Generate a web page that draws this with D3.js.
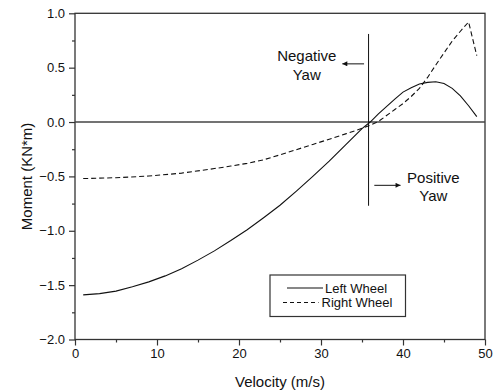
<!DOCTYPE html>
<html><head><meta charset="utf-8">
<script src="https://cdn.jsdelivr.net/npm/d3@7"></script>
<style>body{margin:0;background:#fff}svg{display:block;font-family:Arial,"Liberation Sans",Helvetica,sans-serif}</style>
</head><body><svg id="c" width="496" height="392"></svg>
<script>
// Data
const leftV = [1,3,5,7,9,11,13,15,17,19,21,23,25,27,29,31,33,35,36,37,39,40,41,42,43,44,45,46,47,48,49];
const leftM = [-1.59,-1.578,-1.555,-1.515,-1.47,-1.415,-1.35,-1.27,-1.185,-1.09,-0.99,-0.88,-0.765,-0.635,-0.5,-0.36,-0.21,-0.06,0.0,0.075,0.21,0.275,0.315,0.35,0.365,0.37,0.355,0.31,0.24,0.15,0.05];
const rightV = [1,5,9,13,17,19,21,23,25,27,29,31,33,35,36,37,39,40,41,42,43,44,45,46,47,48,49];
const rightM = [-0.52,-0.512,-0.497,-0.47,-0.428,-0.405,-0.38,-0.347,-0.302,-0.254,-0.206,-0.158,-0.109,-0.058,-0.03,0.005,0.115,0.17,0.235,0.31,0.41,0.525,0.635,0.745,0.835,0.92,0.61];
const xTicks = [0,10,20,30,40,50];
const yTicks = [-2.0,-1.5,-1.0,-0.5,0.0,0.5,1.0];
const seriesNames = ["Left Wheel","Right Wheel"];
const xTitle = "Velocity (m/s)";
const yTitle = "Moment (KN*m)";
const yawV = 35.8, yawFrom = -0.77, yawTo = 0.81;

const svg = d3.select("#c");
const L=75,R=485,T=13.3,B=339.5;
const x = d3.scaleLinear().domain([0,50]).range([L,R]);
const y = d3.scaleLinear().domain([-2,1]).range([B,T]);
const ink = "#111", frame="#333";

// frame
svg.append("rect").attr("x",L).attr("y",T).attr("width",R-L).attr("height",B-T)
  .attr("fill","none").attr("stroke",frame).attr("stroke-width",1.3);

// axes
const xAx = svg.append("g").attr("transform",`translate(0,${B})`)
  .call(d3.axisBottom(x).tickValues(xTicks).tickFormat(d3.format("d")).tickSize(6).tickPadding(3));
const xMinor = svg.append("g").attr("transform",`translate(0,${B})`)
  .call(d3.axisBottom(x).tickValues([5,15,25,35,45]).tickFormat("").tickSize(3));
const yAx = svg.append("g").attr("transform",`translate(${L},0)`)
  .call(d3.axisLeft(y).tickValues(yTicks).tickFormat(d3.format(".1f")).tickSize(6).tickPadding(4));
const yMinor = svg.append("g").attr("transform",`translate(${L},0)`)
  .call(d3.axisLeft(y).tickValues([-1.75,-1.25,-0.75,-0.25,0.25,0.75]).tickFormat("").tickSize(3));
[xAx,xMinor,yAx,yMinor].forEach(g=>{
  g.select(".domain").remove();
  g.selectAll("line").attr("stroke",frame).attr("stroke-width",1.2);
  g.selectAll("text").attr("font-size",13).attr("fill",ink).attr("font-family","Arial, Liberation Sans, sans-serif");
});

// zero line
svg.append("line").attr("x1",L).attr("x2",R).attr("y1",y(0)).attr("y2",y(0))
  .attr("stroke","#444").attr("stroke-width",1.5);

// yaw boundary line
svg.append("line").attr("x1",x(yawV)).attr("x2",x(yawV)).attr("y1",y(yawTo)).attr("y2",y(yawFrom))
  .attr("stroke",ink).attr("stroke-width",1);

// curves
const line = d3.line().x(d=>x(d[0])).y(d=>y(d[1])).curve(d3.curveLinear);
svg.append("path").datum(leftV.map((v,i)=>[v,leftM[i]])).attr("d",line)
  .attr("fill","none").attr("stroke",ink).attr("stroke-width",1.1);
svg.append("path").datum(rightV.map((v,i)=>[v,rightM[i]])).attr("d",line)
  .attr("fill","none").attr("stroke",ink).attr("stroke-width",1.1).attr("stroke-dasharray","5,3");

// annotations
const ann = svg.append("g").attr("font-size",15).attr("fill",ink).attr("text-anchor","middle");
ann.append("text").attr("x",x(28.26)).attr("y",y(0.558)).text("Negative");
ann.append("text").attr("x",x(28.26)).attr("y",y(0.385)).text("Yaw");
ann.append("text").attr("x",x(43.7)).attr("y",y(-0.564)).text("Positive");
ann.append("text").attr("x",x(43.7)).attr("y",y(-0.73)).text("Yaw");

const defs = svg.append("defs");
defs.append("marker").attr("id","ah").attr("viewBox","0 0 10 10").attr("refX",10).attr("refY",5)
  .attr("markerWidth",7).attr("markerHeight",5).attr("markerUnits","userSpaceOnUse").attr("orient","auto")
  .append("path").attr("d","M0,0L10,5L0,10Z").attr("fill",ink);
svg.append("line").attr("x1",x(35.25)).attr("x2",x(32.6)).attr("y1",y(0.535)).attr("y2",y(0.535))
  .attr("stroke",ink).attr("stroke-width",1).attr("marker-end","url(#ah)");
svg.append("line").attr("x1",x(36.5)).attr("x2",x(39.7)).attr("y1",y(-0.582)).attr("y2",y(-0.582))
  .attr("stroke",ink).attr("stroke-width",1).attr("marker-end","url(#ah)");

// axis titles
svg.append("text").attr("x",(L+R)/2).attr("y",387).attr("text-anchor","middle")
  .attr("font-size",15).attr("fill",ink).text(xTitle);
svg.append("text").attr("transform",`translate(32,${(T+B)/2}) rotate(-90)`).attr("text-anchor","middle")
  .attr("font-size",15).attr("fill",ink).text(yTitle);

// legend
const lg = svg.append("g");
lg.append("rect").attr("x",270).attr("y",275).attr("width",135.5).attr("height",41.5)
  .attr("fill","#fff").attr("stroke",frame).attr("stroke-width",1.2);
const rows=[{x1:287,x2:323,tx:325,y:288,dash:null},{x1:283,x2:318.5,tx:321.5,y:302.5,dash:"4,3"}];
rows.forEach((r,i)=>{
  lg.append("line").attr("x1",r.x1).attr("x2",r.x2).attr("y1",r.y).attr("y2",r.y)
    .attr("stroke",ink).attr("stroke-width",1.1).attr("stroke-dasharray",r.dash);
  lg.append("text").attr("x",r.tx).attr("y",r.y+4.5).attr("font-size",13).attr("fill",ink).text(seriesNames[i]);
});
</script></body></html>
